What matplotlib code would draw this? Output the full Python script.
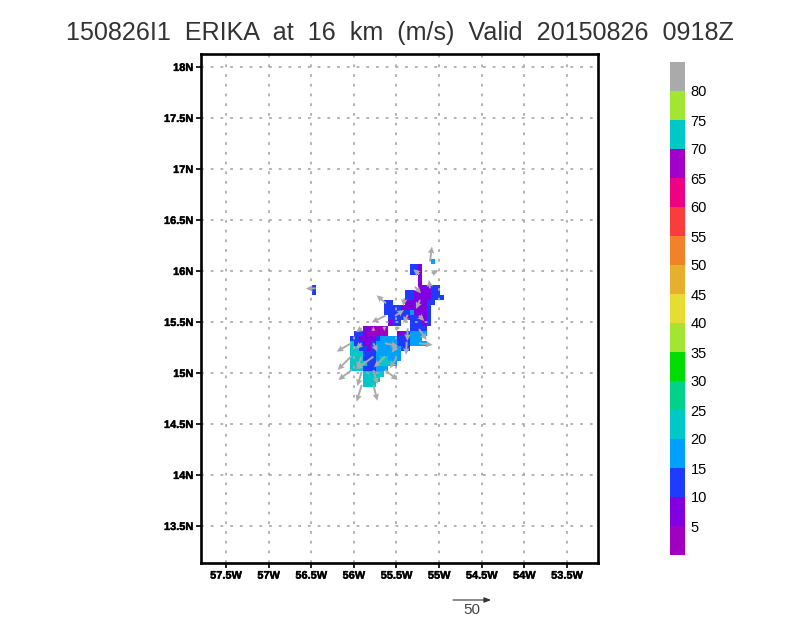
import numpy as np
import matplotlib
matplotlib.use("Agg")
import matplotlib.pyplot as plt
from matplotlib.patches import FancyArrowPatch
from matplotlib.colors import ListedColormap, BoundaryNorm
import matplotlib.patheffects as pe

title = "150826I1  ERIKA  at  16  km  (m/s)  Valid  20150826  0918Z"
lon_ticks = [-57.5, -57, -56.5, -56, -55.5, -55, -54.5, -54, -53.5]
lon_labels = ["57.5W", "57W", "56.5W", "56W", "55.5W", "55W", "54.5W", "54W", "53.5W"]
lat_ticks = [13.5, 14, 14.5, 15, 15.5, 16, 16.5, 17, 17.5, 18]
lat_labels = ["13.5N", "14N", "14.5N", "15N", "15.5N", "16N", "16.5N", "17N", "17.5N", "18N"]

levels = list(range(0, 90, 5))
level_labels = [5, 10, 15, 20, 25, 30, 35, 40, 45, 50, 55, 60, 65, 70, 75, 80]
colors = ["#a000c0", "#8000e0", "#1e3cff", "#00a0ff", "#00c8c8", "#00d28c", "#00dc00",
          "#a0e632", "#e6dc32", "#e6af2d", "#f08228", "#fa3c3c", "#f00082", "#a000c8",
          "#00c8c8", "#a0e632", "#aaaaaa"]

# Wind speed class per 0.05 degree cell, north to south, west to east (class n = 5(n-1)..5n m/s)
speed_rows = [
    "...................4",
    "..............332",
    "..............332",
    "................2",
    "................2",
    "................22233",
    ".............33222233",
    ".............332222333",
    "........33...2222233",
    "........33332222223",
    "........33333342223",
    ".........3333233223",
    ".........233..33323",
    "...221111.....3333",
    ".33211111..2234444",
    "33222" + "2" + "3" + "4444" + "333" + "444",
    "5" + "33" + "22" + "3" + "44444" + "333" + "4444",
    "55" + "33" + "2" + "3" + "444444" + "33",
    "555333444444",
    "55533" + "3" + "4" + "55" + "444",
    "5555" + "33" + "4" + "555" + "4",
    "555333444",
    "...55555",
    "...5555",
    "...555",
]
grid_west = -56.045
grid_north = 16.065
cell_deg = 0.05
isolated_col = [-9, -9]
isolated_row = [5, 6]
isolated_class = [3, 3]

vec_lon = [-55.107, -55.087, -55.232, -55.107, -55.283, -55.623, -55.224, -55.408, -55.517,
           -55.627, -55.369, -55.236, -55.478, -55.908, -55.771, -55.642, -55.369, -55.236,
           -55.380, -55.236, -55.635, -56.033, -55.908, -55.771, -55.505, -56.026, -55.908,
           -55.771, -55.635, -55.505, -56.026, -55.908, -55.771, -55.635, -55.908, -55.771,
           -56.448]
vec_lat = [16.092, 15.977, 15.967, 15.830, 15.846, 15.683, 15.716, 15.732, 15.559,
           15.562, 15.569, 15.562, 15.454, 15.438, 15.412, 15.454, 15.438, 15.431,
           15.307, 15.291, 15.291, 15.291, 15.291, 15.291, 15.258, 15.167, 15.160,
           15.160, 15.160, 15.144, 15.029, 15.013, 15.029, 15.029, 14.882, 14.882,
           15.830]
vec_u = [2.6, 8.8, -7.9, -1.3, 7.9, -12.3, -5.3, -1.3, 11.8,
         -18.4, -5.7, 7.0, -3.1, -7.5, 0.0, 0.0, -0.4, 10.1,
         -0.9, 18.0, 17.5, -18.9, -7.5, 5.3, -5.7, -18.4, -6.6,
         -22.8, -14.5, -7.9, -17.5, -5.7, 5.3, 16.7, -6.6, 5.3,
         -12.8]
vec_v = [19.7, 3.5, 6.6, 11.0, -8.8, 10.5, -11.8, -10.1, 7.9,
         -8.8, -11.0, -7.0, -5.7, -5.3, 5.7, -5.7, -16.7, -14.5,
         -17.5, -2.2, -3.5, -11.0, -7.5, -11.0, -7.9, -18.4, -15.4,
         -16.7, -14.0, -13.2, -13.2, -18.9, -18.9, -13.2, -21.9, -20.6,
         -0.5]
key_speed = 50

plt.rcParams["font.family"] = ["Liberation Sans", "DejaVu Sans"]
W, H = 800, 618
fig = plt.figure(figsize=(W / 100, H / 100), dpi=100)
ax = fig.add_axes([201 / W, (H - 563) / H, 397 / W, 509 / H])
ax.set_xlim(-57.793, -53.136)
ax.set_ylim(13.137, 18.127)

col_shift = 9
nrow = len(speed_rows)
ncol = max(len(r) for r in speed_rows) + col_shift + 1
field = np.full((nrow, ncol), np.nan)
for j, row in enumerate(speed_rows):
    for i, ch in enumerate(row):
        if ch != ".":
            field[j, i + col_shift] = 5 * int(ch) - 2.5
for c, r, k in zip(isolated_col, isolated_row, isolated_class):
    field[r, c + col_shift] = 5 * k - 2.5
lon_edges = grid_west + (np.arange(ncol + 1) - col_shift) * cell_deg
lat_edges = grid_north + cell_deg - np.arange(nrow + 1) * cell_deg
cmap = ListedColormap(colors)
norm = BoundaryNorm(levels, cmap.N)
ax.pcolormesh(lon_edges, lat_edges, np.ma.masked_invalid(field), cmap=cmap, norm=norm,
              shading="flat", zorder=1, linewidth=0, antialiased=False)

dots = (0, (1.6, 4.0))
for x in lon_ticks:
    ax.axvline(x, color="#aaaaaa", lw=1.25, ls=dots, zorder=2)
for y in lat_ticks:
    ax.axhline(y, color="#aaaaaa", lw=1.25, ls=dots, zorder=2)

px_per_ms = 38 / key_speed
ax.quiver(vec_lon, vec_lat, vec_u, vec_v, angles="uv", scale_units="inches",
          scale=100 / px_per_ms, units="dots", width=1.9, headwidth=3.4, headlength=3.6,
          headaxislength=3.2, minlength=0.5, color="#aaaaaa", zorder=3)

ax.set_xticks(lon_ticks, lon_labels)
ax.set_yticks(lat_ticks, lat_labels)
ax.tick_params(axis="both", length=3.5, width=1.2, color="black", labelsize=7.9, pad=2)
for t in ax.get_xticklabels() + ax.get_yticklabels():
    t.set_fontweight("bold")
    t.set_path_effects([pe.withStroke(linewidth=0.3, foreground="black")])
for s in ax.spines.values():
    s.set_linewidth(1.9)

fig.text(400 / W, 1 - 33 / H, title, ha="center", va="center", fontsize=18.1, color="#333333")

cax = fig.add_axes([670 / W, (H - 555) / H, 15 / W, 493 / H])
cax.pcolormesh([0, 1], levels, np.array(levels[:-1], float).reshape(-1, 1) + 2.5,
               cmap=cmap, norm=norm, shading="flat")
cax.set_xticks([])
cax.yaxis.tick_right()
cax.set_yticks(level_labels, [str(v) for v in level_labels])
cax.tick_params(axis="y", length=0, pad=4, labelsize=10.5)
for s in cax.spines.values():
    s.set_visible(False)

fig.add_artist(FancyArrowPatch(
    (453 / W, 1 - 600 / H), ((453 + key_speed * px_per_ms) / W, 1 - 600 / H),
    transform=fig.transFigure, arrowstyle="-|>,head_length=2.5,head_width=1.0",
    mutation_scale=1.6, lw=0.8, color="#333333", shrinkA=0, shrinkB=0))
fig.text(472 / W, 1 - 610 / H, str(key_speed), ha="center", va="center", fontsize=11, color="#444444")

fig.savefig("out.png", dpi=100)
